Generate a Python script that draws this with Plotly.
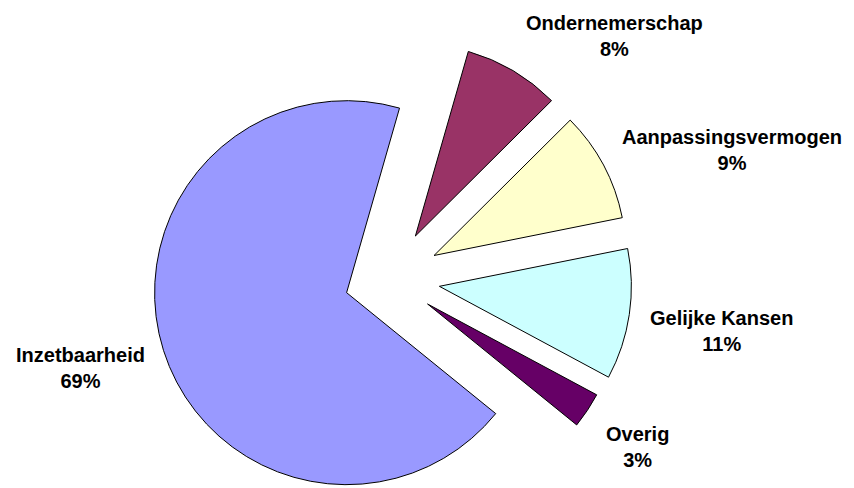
import math
import plotly.graph_objects as go

# DATA
labels = ['Ondernemerschap', 'Aanpassingsvermogen', 'Gelijke Kansen', 'Overig', 'Inzetbaarheid']
values = [8.1, 9.3, 11.0, 3.0, 68.6]
colors = ['#993366', '#FFFFCC', '#CCFFFF', '#660066', '#9999FF']
explode = [0.26, 0.26, 0.26, 0.235, 0.237]

# label block centres in px (from top-left of the figure)
label_pos = [(606, 28), (724, 142), (713, 323), (629, 439), (72, 360)]

W, H = 854, 488
R = 192            # pie radius in px
CX, CY = 382, 271  # common pie centre in px
START = 16         # first slice starts 16 deg clockwise from 12 o'clock

total = sum(values)
n = len(values)

fig = go.Figure()

# each slice is its own pie trace (others transparent), moved out along its
# bisector like an Excel exploded pie, so the radius isn't shrunk by 'pull'
angle = START
for i in range(n):
    span = 360 * values[i] / total
    mid = math.radians(angle + span / 2)
    angle += span
    cx = CX + explode[i] * R * math.sin(mid)
    cy = CY - explode[i] * R * math.cos(mid)

    fills = ['rgba(0,0,0,0)'] * n
    fills[i] = colors[i]
    widths = [0] * n
    widths[i] = 1

    fig.add_trace(go.Pie(
        labels=labels,
        values=values,
        sort=False,
        direction='clockwise',
        rotation=START,
        marker=dict(colors=fills, line=dict(color='black', width=widths)),
        textinfo='none',
        hoverinfo='label+percent',
        showlegend=False,
        domain=dict(
            x=[max(0, (cx - R) / W), min(1, (cx + R) / W)],
            y=[max(0, 1 - (cy + R) / H), min(1, 1 - (cy - R) / H)],
        ),
    ))

for i in range(n):
    px, py = label_pos[i]
    pct = round(100 * values[i] / total)
    fig.add_annotation(
        x=px / W, y=1 - py / H, xref='paper', yref='paper',
        text='{}<br>{}%'.format(labels[i], pct),
        showarrow=False,
        xanchor='center', yanchor='middle',
        font=dict(family='Liberation Sans, Arial', size=20, color='black', weight='bold'),
    )

fig.update_layout(
    width=W, height=H,
    margin=dict(l=0, r=0, t=0, b=0),
    paper_bgcolor='white',
    plot_bgcolor='white',
)

fig.write_html("out.html")
